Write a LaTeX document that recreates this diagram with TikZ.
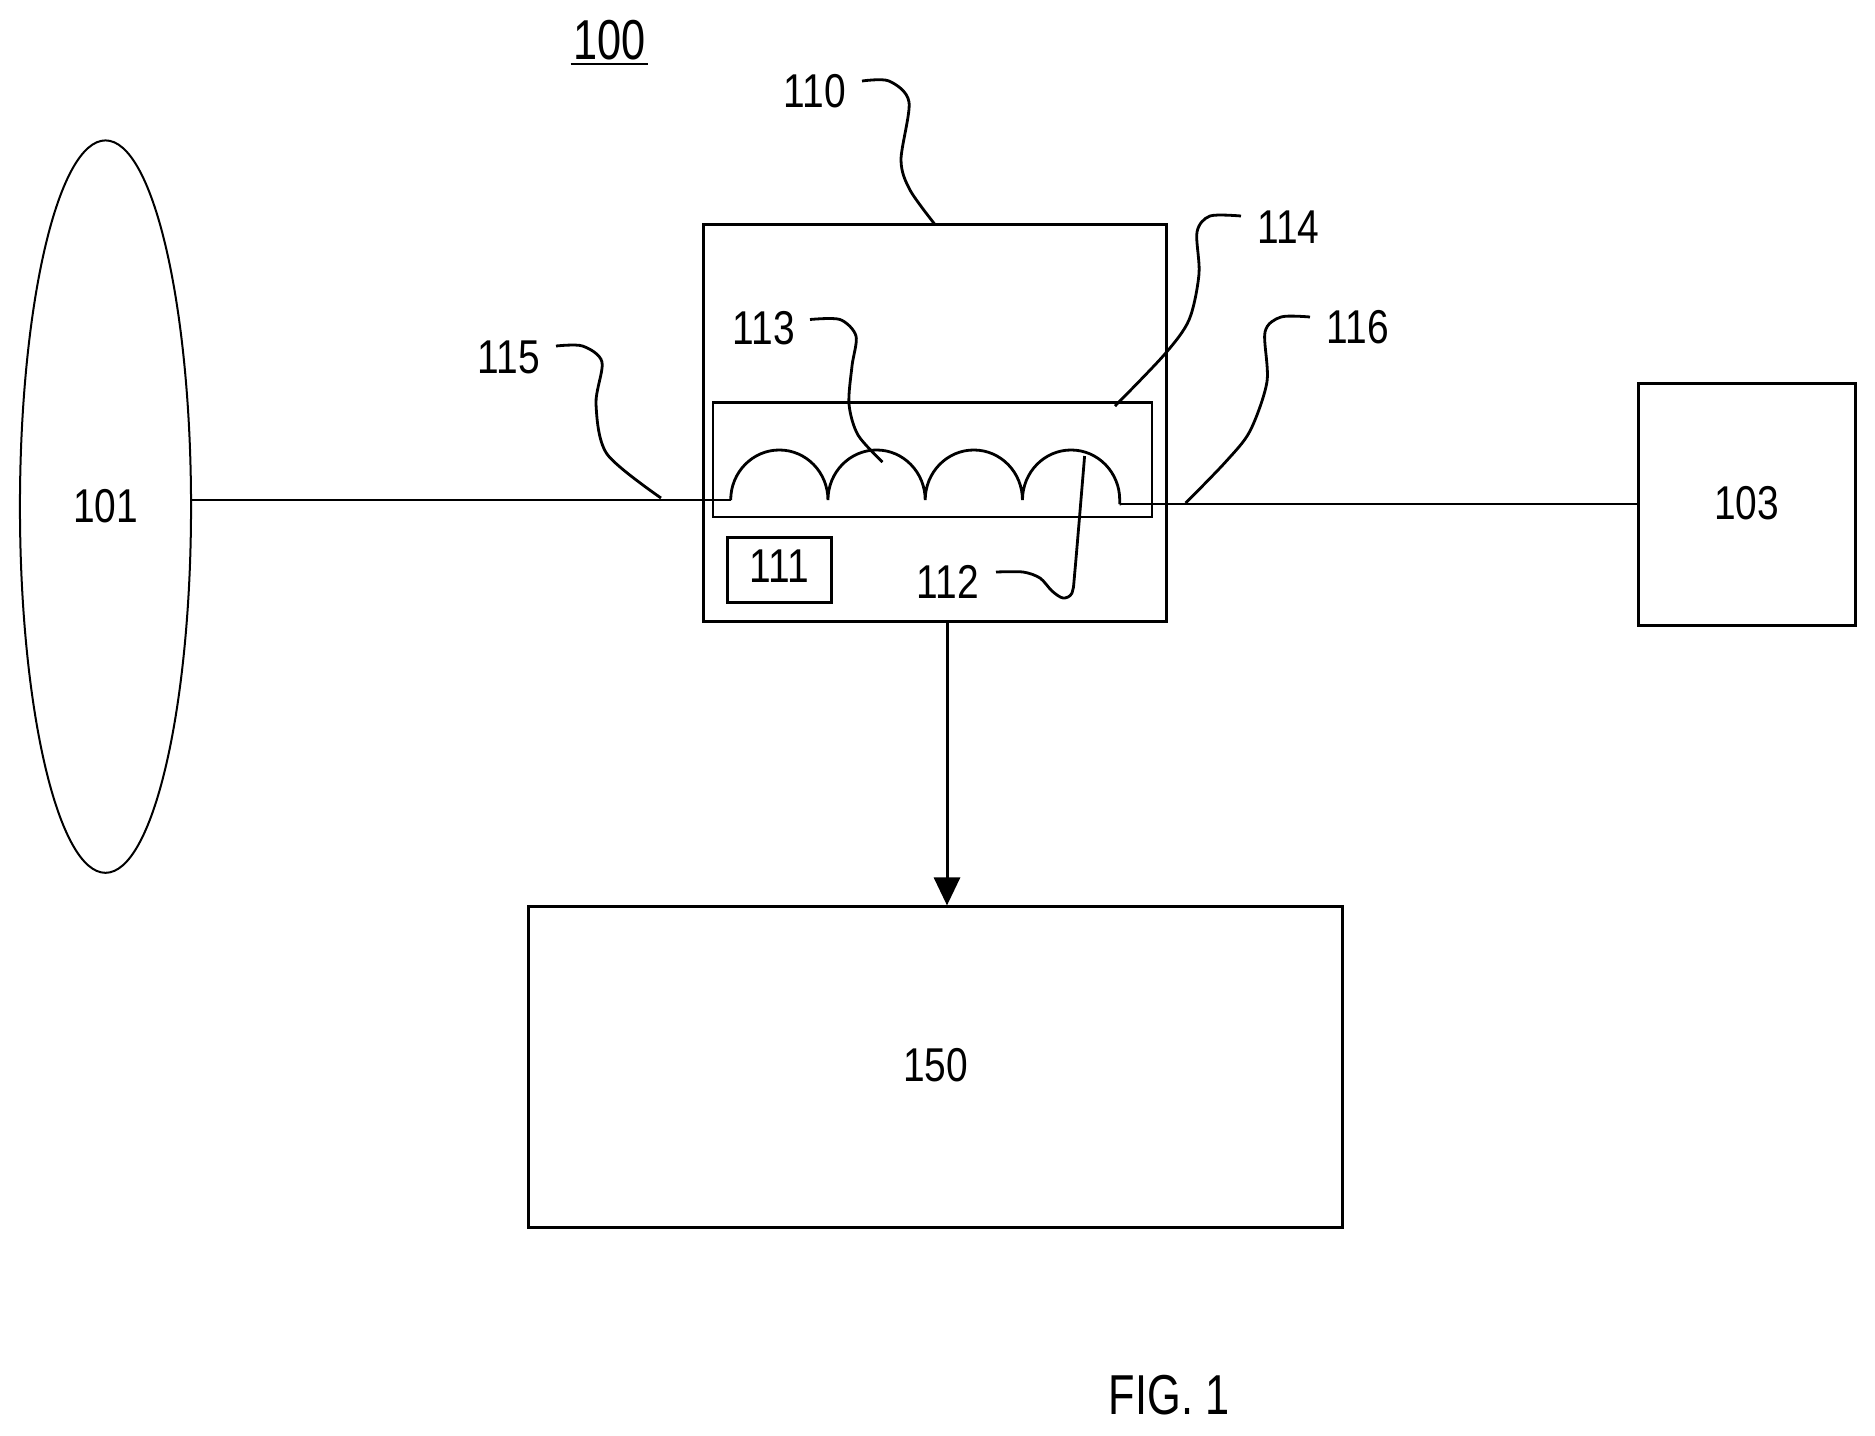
\documentclass[tikz,border=0pt]{standalone}
\usepackage{fontspec}
\setmainfont[FakeStretch=0.82]{Liberation Sans}
\newfontfamily\bigfont[FakeStretch=0.77]{Liberation Sans}
\usepackage{tikz}
\usetikzlibrary{arrows.meta}
\usetikzlibrary{shapes.geometric}
\tikzstyle{refnum} = [inner sep=0pt, font=\fontsize{13.5}{16}\selectfont]
\tikzstyle{bigtext} = [inner xsep=0.02cm, inner ysep=0.036cm, font=\bigfont\fontsize{16}{19}\selectfont]
\tikzstyle{block} = [rectangle, draw=black, line width=0.03cm, inner sep=0pt, text depth=0.04cm, font=\fontsize{13.5}{16}\selectfont]
\tikzstyle{cloud} = [ellipse, draw=black, line width=0.02cm, inner sep=0pt, text depth=0.02cm, font=\fontsize{13.5}{16}\selectfont]
\tikzstyle{housing} = [rectangle, draw=black, line width=0.022cm, inner sep=0pt]
\tikzstyle{wire} = [line width=0.028cm]
\tikzstyle{leader} = [line width=0.028cm, line join=round]
\tikzstyle{arrow} = [line width=0.03cm,-{Triangle[length=0.28cm,width=0.26cm]}]

\begin{document}
\begin{tikzpicture}[x=0.01cm,y=-0.01cm]
\useasboundingbox (0,0) rectangle (1875,1435);
\node (n101) [cloud, minimum width=1.71cm, minimum height=7.32cm] at (105.5,506.6) {101};
\node (n110) [block, minimum width=4.62cm, minimum height=3.964cm] at (935,422.8) {};
\node (n114) [housing, minimum width=4.39cm, minimum height=1.145cm] at (932.5,459.75) {};
\node (n111) [block, text depth=0.08cm, minimum width=1.03cm, minimum height=0.644cm] at (779.5,569.8) {111};
\node (n103) [block, minimum width=2.166cm, minimum height=2.415cm] at (1746.7,504.75) {103};
\node (n150) [block, minimum width=8.13cm, minimum height=3.2cm] at (935.5,1067) {150};
\node (l100) [bigtext] at (609.4,40) {100};
\node (l110) [refnum] at (815,91.4) {110};
\node (l113) [refnum] at (764,328.6) {113};
\node (l114) [refnum] at (1288.5,227) {114};
\node (l115) [refnum] at (509,357.7) {115};
\node (l116) [refnum] at (1358,326.7) {116};
\node (l112) [refnum] at (948,582.4) {112};
\node (fig) [bigtext] at (1169,1395) {FIG. 1};
\coordinate (coilin) at (730.7,500);
\coordinate (coilout) at (1119.5,504);
\coordinate (tip150) at (947,907);
\coordinate (e110) at (934.6,224);
\coordinate (e113) at (882.5,462);
\coordinate (e114) at (1115,406);
\coordinate (e115) at (661,498);
\coordinate (e116) at (1185.7,503);
\coordinate (e112) at (1084.6,456);
\draw [line width=0.024cm] (l100.south west) -- (l100.south east);
\draw [wire] (coilin -| n101.east) -- (coilin);
\draw [wire] (coilin) \foreach \i in {1,2,3,4} {arc [start angle=180, end angle=0, x radius=0.486cm, y radius=0.5cm]} -- ++(0,4) -- (coilout);
\draw [wire] (coilout) -- (coilout -| n103.west);
\draw [arrow] (tip150 |- n110.south) -- (tip150 |- n150.north);
\draw [leader] plot [smooth, tension=0.5] coordinates {(862,81) (889,81) (909,102) (901,160) (910,190) (e110)};
\draw [leader] plot [smooth, tension=0.5] coordinates {(810,319.5) (840,319.5) (856,336) (852,366) (849,404) (858,435) (e113)};
\draw [leader] plot [smooth, tension=0.5] coordinates {(1241,216) (1210,216) (1197,232) (1199,274) (1189,320) (1164,355) (e114)};
\draw [leader] plot [smooth, tension=0.5] coordinates {(556,346) (582.5,346) (602,362) (596,404) (607,454) (e115)};
\draw [leader] plot [smooth, tension=0.5] coordinates {(1310,317) (1281,317) (1265,332) (1267,381.5) (1250,431) (1225.5,462) (e116)};
\draw [leader] plot [smooth, tension=0.5] coordinates {(996,572) (1023,572) (1040,578) (1052,591) (1063,598) (1072,593) (1075,570) (e112)};
\end{tikzpicture}
\end{document}
